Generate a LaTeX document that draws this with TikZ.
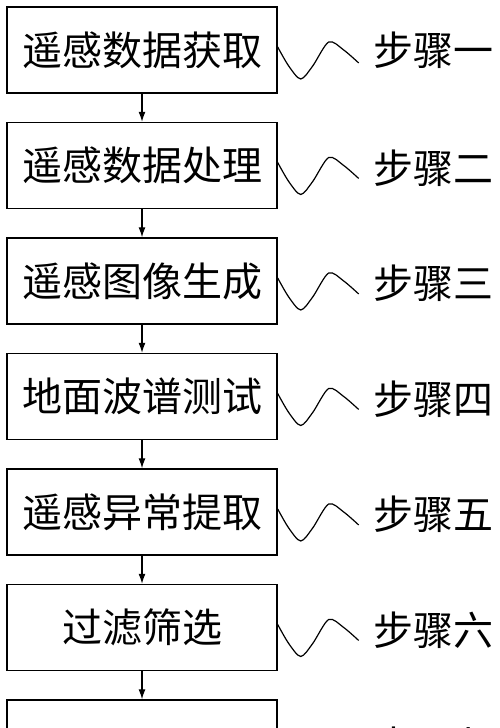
\documentclass[tikz,border=0pt]{standalone}
\usepackage{fontspec}
\newfontfamily\cjk{Noto Sans CJK SC}
\usetikzlibrary{arrows.meta}
\usetikzlibrary{positioning}

\tikzset{
    stepbox/.style={draw, line width=1.4pt, minimum width=270pt, minimum height=86pt,
        font=\cjk\fontsize{40}{40}\selectfont},
    steplabel/.style={anchor=west, font=\cjk\fontsize{40}{40}\selectfont},
    flow/.style={-{Latex[length=10pt,width=7pt]}, line width=1.2pt},
    wave/.style={line width=1.2pt}
}

\begin{document}
\begin{tikzpicture}[x=1pt,y=-1pt]
    \useasboundingbox (0,0) rectangle (500,728);
    % boxes
    \node[stepbox] (b1) at (142,50) {遥感数据获取};
    \node[stepbox] (b2) at (142,165.5) {遥感数据处理};
    \node[stepbox] (b3) at (142,281) {遥感图像生成};
    \node[stepbox] (b4) at (142,396.5) {地面波谱测试};
    \node[stepbox] (b5) at (142,512) {遥感异常提取};
    \node[stepbox] (b6) at (142,627.5) {过滤筛选};
    \node[stepbox] (b7) at (142,743) {};
    % step labels
    \node[steplabel] (s1) at (370,50) {步骤一};
    \node[steplabel] (s2) at (370,168) {步骤二};
    \node[steplabel] (s3) at (370,283) {步骤三};
    \node[steplabel] (s4) at (370,399) {步骤四};
    \node[steplabel] (s5) at (370,514) {步骤五};
    \node[steplabel] (s6) at (370,630) {步骤六};
    \node[steplabel] (s7) at (370,745) {步骤七};
    % arrows
    \draw[flow] (b1) -- (b2);
    \draw[flow] (b2) -- (b3);
    \draw[flow] (b3) -- (b4);
    \draw[flow] (b4) -- (b5);
    \draw[flow] (b5) -- (b6);
    \draw[flow] (b6) -- (b7);
    % waves
    \draw[wave,shift={(b1.east)}] plot[smooth] coordinates {(0,-3)(11,16)(23,29)(35,16)(51,-8)(66,0)(81,13)};
    \draw[wave,shift={(b2.east)}] plot[smooth] coordinates {(0,-3)(11,16)(23,29)(35,16)(51,-8)(66,0)(81,13)};
    \draw[wave,shift={(b3.east)}] plot[smooth] coordinates {(0,-3)(11,16)(23,29)(35,16)(51,-8)(66,0)(81,13)};
    \draw[wave,shift={(b4.east)}] plot[smooth] coordinates {(0,-3)(11,16)(23,29)(35,16)(51,-8)(66,0)(81,13)};
    \draw[wave,shift={(b5.east)}] plot[smooth] coordinates {(0,-3)(11,16)(23,29)(35,16)(51,-8)(66,0)(81,13)};
    \draw[wave,shift={(b6.east)}] plot[smooth] coordinates {(0,-3)(11,16)(23,29)(35,16)(51,-8)(66,0)(81,13)};
\end{tikzpicture}
\end{document}
